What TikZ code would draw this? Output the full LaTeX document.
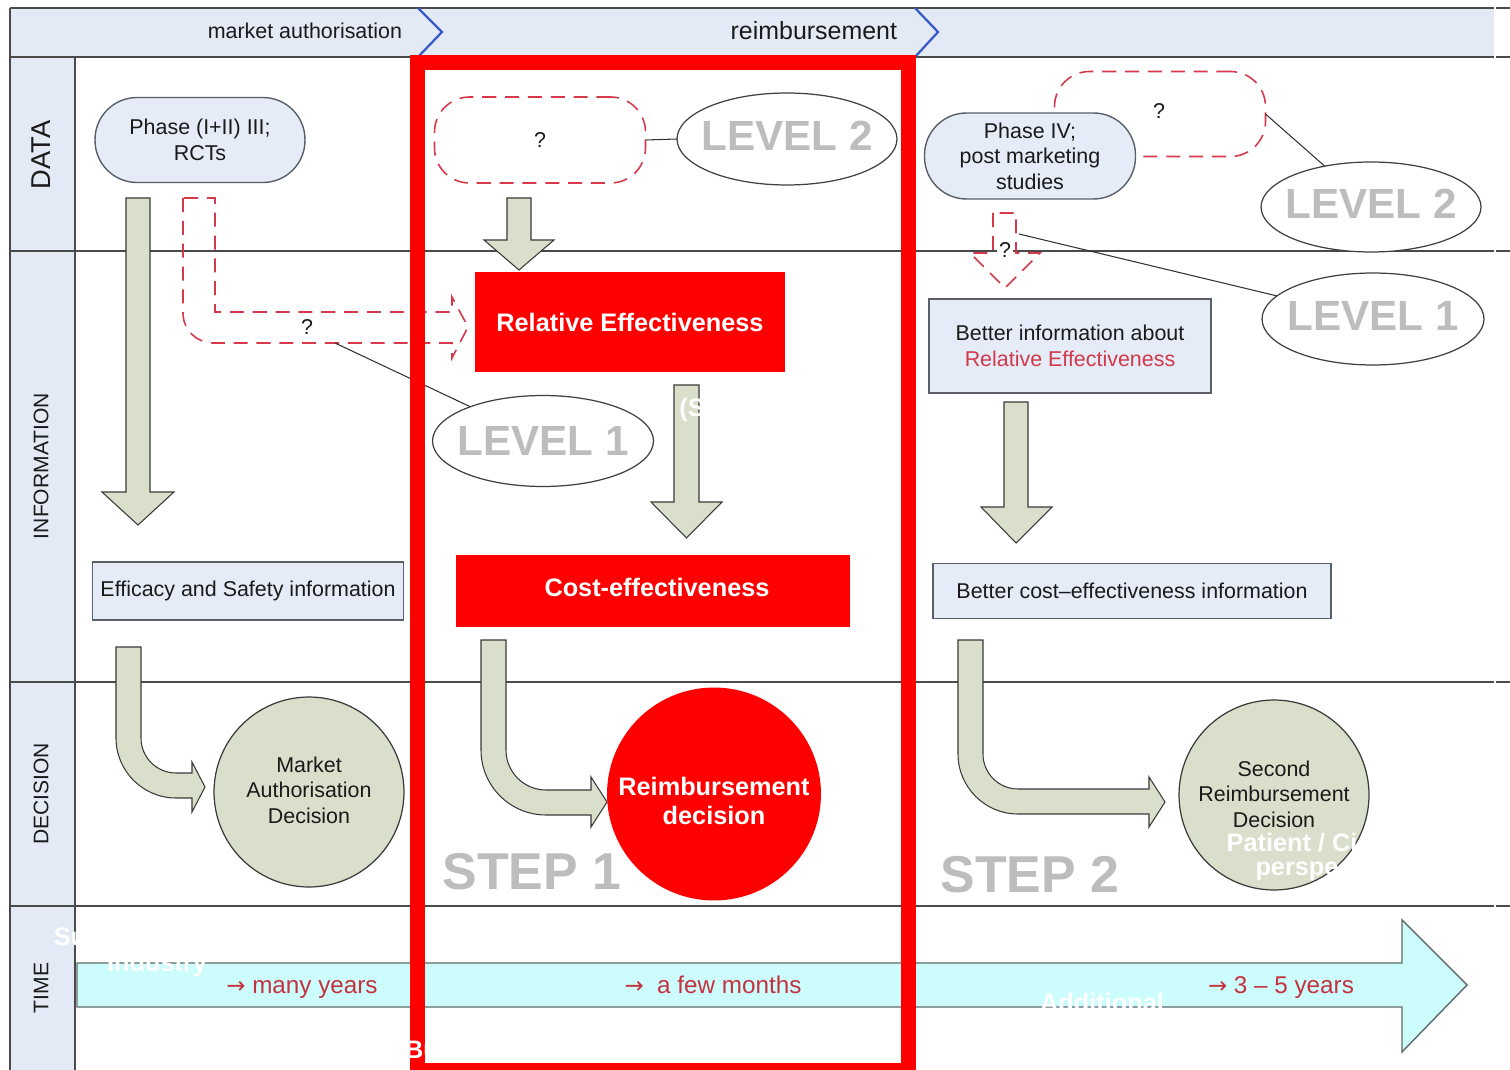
\documentclass[tikz,border=0pt]{standalone}
\usepackage{fontspec}
\setmainfont{Liberation Sans}
\newfontfamily\arrowfont{DejaVu Sans}
\usetikzlibrary{shapes.geometric}
\definecolor{laneblue}{HTML}{E3EAF6}
\definecolor{boxblue}{HTML}{E5ECF7}
\definecolor{boxline}{HTML}{5A5F68}
\definecolor{armfill}{HTML}{DADFCB}
\definecolor{armdraw}{HTML}{3A3A3A}
\definecolor{dashred}{HTML}{D63A4A}
\definecolor{lvlgray}{HTML}{BDBDBD}
\definecolor{timered}{HTML}{C4323F}
\definecolor{cyanfill}{HTML}{CCFCFC}
\definecolor{timeline}{HTML}{5F6B6B}
\definecolor{chevblue}{HTML}{3A5BC7}
\definecolor{laneline}{HTML}{4A4A4A}
\definecolor{txt}{HTML}{1A1A1A}
\definecolor{relred}{HTML}{D0394A}
\definecolor{pure}{HTML}{FF0000}
\newcommand\fBody{\fontsize{12.2}{14.6}\selectfont}
\newcommand\fTop{\fontsize{12.2}{14.6}\selectfont}
\newcommand\fTopBig{\fontsize{14.2}{17}\selectfont}
\newcommand\fBoldW{\fontsize{14.4}{16}\selectfont\bfseries}
\newcommand\fLevel{\fontsize{24}{28}\selectfont\bfseries}
\newcommand\fStep{\fontsize{29.5}{34}\selectfont\bfseries}
\newcommand\fLane{\fontsize{12}{14}\selectfont}
\newcommand\fLaneBig{\fontsize{15.5}{18}\selectfont}
\newcommand\fTime{\fontsize{13.8}{16}\selectfont}
\newcommand\tarrow{{\arrowfont\fontsize{13}{16}\selectfont →}}
\begin{document}
\begin{tikzpicture}[x=0.02cm,y=-0.02cm,
  every node/.style={inner sep=0pt, outer sep=0pt, text=txt},
  lanel/.style={draw=laneline, line width=1.1pt},
  lanelabel/.style={rotate=90, font=\fLane},
  chev/.style={draw=chevblue, line width=1.3pt, line join=miter},
  bluebox/.style={rectangle, draw=boxline, fill=boxblue, line width=0.8pt, font=\fBody, align=center},
  stadium/.style={rectangle, rounded corners=0.84cm, draw=boxline, fill=boxblue, line width=0.8pt, font=\fBody, align=center},
  dashbox/.style={rectangle, rounded corners=0.7cm, draw=dashred, line width=0.9pt, dash pattern=on 8pt off 5pt, font=\fBody},
  dasharrow/.style={draw=dashred, line width=0.9pt, dash pattern=on 8pt off 5pt},
  lvl/.style={ellipse, draw=black!75, fill=white, line width=0.7pt},
  lvltxt/.style={text=lvlgray, font=\fLevel},
  redbox/.style={rectangle, fill=pure},
  redtxt/.style={text=white, font=\fBoldW, align=center},
  blockarrow/.style={fill=armfill, draw=armdraw, line width=0.6pt, line join=miter},
  decision/.style={ellipse, draw=armdraw, fill=armfill, line width=0.7pt},
  dectxt/.style={font=\fBody, align=center},
  steptxt/.style={text=lvlgray, font=\fStep},
  timetxt/.style={text=timered, font=\fTime, anchor=base},
  conn/.style={draw=black!80, line width=0.6pt},
  wtxt/.style={text=white, font=\fBoldW}
]
\useasboundingbox (0,0) rectangle (1510,1070);
\clip (0,0) rectangle (1510,1070);
\fill[white] (0,0) rectangle (1510,1070);

% lanes
\fill[laneblue] (10,8) rectangle (1494,57);
\fill[laneblue] (10,57) rectangle (75,1070);
\draw[lanel] (10,8) -- (1510,8);
\draw[lanel] (10,57) -- (1510,57);
\draw[lanel] (10,8) -- (10,1070);
\draw[lanel] (75,57) -- (75,1070);
\foreach \yy in {251,682,906} { \draw[lanel] (10,\yy) -- (1510,\yy); }
\draw[white, line width=1.2pt] (1495,0) -- (1495,1070);

% chevrons and phase labels
\draw[chev] (418,8) -- (442,32) -- (418,57);
\draw[chev] (915,8) -- (938,32) -- (915,57);
\node[font=\fTop, anchor=east] (ma) at (402,31) {market authorisation};
\node[font=\fTopBig, anchor=east] (rb) at (897,31) {reimbursement};

% lane labels
\node[lanelabel, font=\fLaneBig] (ldata) at (41,155) {DATA};
\node[lanelabel] (linfo) at (41,466) {INFORMATION};
\node[lanelabel] (ldec) at (41,794) {DECISION};
\node[lanelabel] (ltime) at (41,988) {TIME};

% block arrows
\filldraw[blockarrow] (126,198) -- (126,492) -- (102,492) -- (138,525) -- (174,492) -- (150,492) -- (150,198) -- cycle;
\filldraw[blockarrow] (507,198) -- (507,240) -- (484,240) -- (519,270) -- (554,240) -- (531,240) -- (531,198) -- cycle;
\filldraw[blockarrow] (674,385) -- (674,502) -- (651,502) -- (686.5,538) -- (722,502) -- (699,502) -- (699,385) -- cycle;
\filldraw[blockarrow] (1004,402) -- (1004,507) -- (981,507) -- (1016,543) -- (1052,507) -- (1028,507) -- (1028,402) -- cycle;

\filldraw[blockarrow] (116,647) -- (116,738) .. controls (116,771.1) and (142.9,798) .. (176,798) -- (192,798) -- (192,812) -- (205,787) -- (192,762) -- (192,773) -- (176,773) .. controls (156.7,773) and (141,757.3) .. (141,738) -- (141,647) -- cycle;
\filldraw[blockarrow] (481,640) -- (481,750) .. controls (481,785.9) and (510.1,815) .. (546,815) -- (591,815) -- (591,827) -- (607,802) -- (591,777) -- (591,790) -- (546,790) .. controls (523.9,790) and (506,772.1) .. (506,750) -- (506,640) -- cycle;
\filldraw[blockarrow] (958,640) -- (958,754) .. controls (958,787.1) and (984.9,814) .. (1018,814) -- (1149,814) -- (1149,827) -- (1165,802) -- (1149,777) -- (1149,789) -- (1018,789) .. controls (998.7,789) and (983,773.3) .. (983,754) -- (983,640) -- cycle;

% dashed arrows
\draw[dasharrow] (183,198) -- (183,313) .. controls (183,329.6) and (196.4,343) .. (213,343) -- (452,343) -- (452,358) -- (468,327) -- (452,297) -- (452,312) -- (215,312) -- (215,198) -- cycle;
\node[font=\fBody] (qa) at (307,327) {?};
\coordinate (qa1) at (335,343);
\draw[dasharrow] (993,213) -- (993,253) -- (970,253) -- (1005,288) -- (1040,253) -- (1016,253) -- (1016,213) -- cycle;
\node[font=\fBody, fill=white, inner sep=1pt] (qb) at (1005,250) {?};
\coordinate (qa2) at (1019,234);

% data lane nodes
\node[stadium, minimum width=4.2cm, minimum height=1.7cm] (ph3) at (200,140) {Phase (I+II) III;\\RCTs};
\node[dashbox, minimum width=4.22cm, minimum height=1.72cm] (q1) at (540,140) {?};
\node[lvl, minimum width=4.4cm, minimum height=1.84cm] (lv2a) at (787,139) {};
\node[lvltxt] (lv2at) at (787,136) {LEVEL 2};
\node[dashbox, minimum width=4.22cm, minimum height=1.7cm] (q2) at (1160,114) {};
\node[font=\fBody] (q2t) at (1159,111) {?};
\node[stadium, minimum width=4.22cm, minimum height=1.72cm] (ph4) at (1030,156) {Phase IV;\\post marketing\\studies};
\node[lvl, minimum width=4.4cm, minimum height=1.8cm] (lv2b) at (1371,207) {};
\node[lvltxt] (lv2bt) at (1371,204) {LEVEL 2};

% information lane nodes
\node[redbox, minimum width=6.2cm, minimum height=2.02cm] (relf) at (630,322) {};
\node[redtxt] (relft) at (630,322) {Relative Effectiveness};
\node[lvl, minimum width=4.42cm, minimum height=1.82cm] (lv1a) at (543,441) {};
\node[lvltxt] (lv1at) at (lv1a.center) {LEVEL 1};
\node[lvl, minimum width=4.44cm, minimum height=1.84cm] (lv1b) at (1373,319) {};
\node[lvltxt] (lv1bt) at (1373,316) {LEVEL 1};
\node[bluebox, minimum width=5.64cm, minimum height=1.88cm] (brel) at (1070,346) {Better information about\\\textcolor{relred}{Relative Effectiveness}};
\node[bluebox, minimum width=6.22cm, minimum height=1.16cm] (eff) at (248,591) {Efficacy and Safety information};
\node[redbox, minimum width=7.9cm, minimum height=1.46cm] (cost) at (653,591) {};
\node[redtxt] (costt) at (657,587) {Cost-effectiveness};
\node[bluebox, minimum width=7.96cm, minimum height=1.1cm] (bcost) at (1132,591) {Better cost--effectiveness information};

% connectors
\draw[conn] (q1.east) -- (lv2a.west);
\draw[conn] (q2.east) -- (lv2b);
\draw[conn] (qa1) -- (lv1a);
\draw[conn] (qa2) -- (lv1b);

% decision lane
\node[decision, minimum width=3.8cm, minimum height=3.8cm] (mad) at (309,792) {};
\node[dectxt] (madt) at (309,790) {Market\\Authorisation\\Decision};
\node[ellipse, fill=pure, minimum width=4.28cm, minimum height=4.26cm] (rd) at (714,794) {};
\node[redtxt] (rdt) at (714,801) {Reimbursement\\decision};
\node[decision, minimum width=3.8cm, minimum height=3.8cm] (srd) at (1274,795) {};
\node[dectxt] (srdt) at (1274,794) {Second\\Reimbursement\\Decision};
\node[steptxt] (s1) at (532,872) {STEP 1};
\node[steptxt] (s2) at (1030,875) {STEP 2};

% time lane
\filldraw[fill=cyanfill, draw=timeline, line width=0.8pt] (77,963) -- (1402,963) -- (1402,920) -- (1467,985) -- (1402,1052) -- (1402,1007) -- (77,1007) -- cycle;
\node[timetxt] (t1) at (302,993) {\tarrow\ many years};
\node[timetxt] (t2) at (713,993) {\tarrow\ \ a few months};
\node[timetxt] (t3) at (1281,993) {\tarrow\ 3 – 5 years};

% red frame
\draw[pure, line width=0.3cm] (417.5,62.5) rectangle (908,1070.5);

% white fragments
\node[wtxt] (w1) at (70,937) {Su};
\node[wtxt] (w2) at (157,965) {Industry};
\node[wtxt] (w3) at (422,1050) {Bu};
\node[wtxt] (w4) at (1102,1002) {Additional};
\node[wtxt] (w5) at (1292,843) {Patient / Ci};
\node[wtxt] (w6) at (1297,871) {perspe};
\node[wtxt] (w7) at (692,410) {(S};
\end{tikzpicture}
\end{document}
